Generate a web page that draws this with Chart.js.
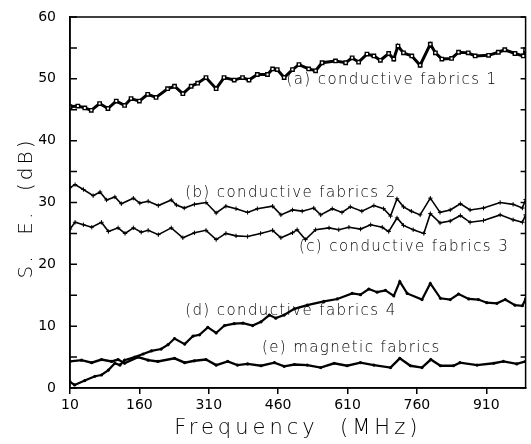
<!DOCTYPE html>
<html>
<head>
<meta charset="utf-8">
<script src="https://cdn.jsdelivr.net/npm/chart.js@4.4.1/dist/chart.umd.min.js"></script>
<style>
  html, body { margin: 0; padding: 0; background: #fff; }
  #wrap { width: 531px; height: 444px; position: relative; }
</style>
</head>
<body>
<div id="wrap"><canvas id="seChart"></canvas></div>
<script>
// values: frequency in MHz, shielding effectiveness in dB
const freqA = [10,27,42,56,74,92,110,128,142,160,178,196,221,236,254,272,286,304,326,343,365,383,397,415,437,448,458,473,491,505,526,541,555,584,606,620,634,652,667,681,699,710,719,731,749,767,789,800,814,835,850,871,886,915,936,950,972,990,995];
const seA = [45.5,45.6,45.3,44.9,46.0,45.2,46.4,45.7,46.8,46.4,47.5,47.0,48.4,48.8,47.6,48.8,49.3,50.2,48.4,50.2,49.8,50.2,49.8,50.7,50.7,51.6,51.5,50.2,51.5,52.3,51.6,51.3,52.6,52.9,52.6,53.4,52.7,54.0,53.7,53.0,54.1,53.2,55.3,54.2,53.7,52.2,55.6,54.2,53.2,53.3,54.3,54.2,53.7,53.8,54.3,54.7,54.1,53.7,54.7];

const freqB = [10,21,39,60,75,89,107,121,147,161,179,201,229,240,257,279,304,326,347,369,394,415,448,466,491,512,537,552,577,598,616,641,667,688,703,717,731,748,767,789,810,832,854,875,904,940,968,988,995];
const seB = [32.4,32.9,32.1,31.1,31.7,30.4,30.9,29.8,30.7,29.9,30.2,29.5,30.4,29.6,29.1,29.7,30.0,28.3,29.4,29.0,28.4,29.0,29.4,28.0,28.8,28.6,29.1,28.0,29.0,28.4,29.3,28.6,29.5,29.0,27.8,30.6,29.3,28.6,28.0,30.7,28.4,28.8,29.8,28.8,29.1,30.0,29.7,29.1,30.5];

const freqC = [10,21,39,57,78,93,114,129,147,164,179,201,229,254,279,304,326,347,369,394,422,448,466,491,501,519,541,570,591,613,638,660,685,699,717,731,752,775,789,810,832,854,875,904,940,968,988,995];
const seC = [25.7,26.8,26.4,26.0,26.8,25.3,25.9,25.0,25.9,25.2,25.5,24.8,25.9,24.3,25.1,25.5,24.0,25.0,24.6,24.5,25.0,25.5,24.3,25.1,25.6,24.0,25.6,25.9,25.6,26.0,25.7,26.4,26.0,25.3,27.5,26.3,25.6,25.0,28.2,26.7,27.0,27.9,26.8,27.1,28.0,27.2,26.8,28.0];

const freqD = [10,20,42,64,78,93,107,118,128,150,168,186,207,222,236,258,276,290,308,326,344,365,384,405,423,441,455,473,495,523,559,588,620,638,656,674,692,710,723,739,771,789,811,832,850,872,893,911,933,951,972,988,995];
const seD = [1.0,0.5,1.2,1.9,2.1,2.9,4.0,3.7,4.5,5.0,5.5,6.0,6.3,7.0,8.0,7.1,8.4,8.6,9.8,8.9,10.1,10.4,10.5,10.1,10.7,11.8,11.3,11.8,12.8,13.4,14.0,14.4,15.3,15.1,16.0,15.5,15.8,14.9,17.2,15.3,14.3,16.9,14.5,14.3,15.2,14.4,14.3,13.8,13.7,14.3,13.4,13.3,14.4];

const freqE = [10,35,57,78,100,114,128,157,179,200,236,258,279,304,326,351,372,394,423,452,473,495,523,552,581,609,638,667,703,723,746,771,790,811,839,853,890,926,947,976,995];
const seE = [4.3,4.5,4.1,4.6,4.3,4.6,4.0,5.0,4.5,4.3,4.8,4.1,4.4,4.6,3.7,4.3,3.7,3.9,3.6,4.1,3.5,3.8,3.7,3.3,4.0,3.6,4.1,3.7,3.3,4.8,3.6,3.3,4.6,3.6,3.6,4.1,3.7,4.0,4.3,3.9,4.3];

const xTicks = [10, 160, 310, 460, 610, 760, 910];

// curve labels, anchored in data units (left edge, vertical middle)
const labelText = ['(a) conductive fabrics 1', '(b) conductive fabrics 2', '(c) conductive fabrics 3', '(d) conductive fabrics 4', '(e) magnetic fabrics'];
const labelFreq = [478, 259, 505, 259, 425];
const labelSE = [49.8, 31.5, 22.8, 12.5, 6.4];

function toPoints(fs, vs) {
    return fs.map((f, i) => ({ x: f, y: vs[i] }));
}

Chart.defaults.font.family = '"DejaVu Sans", sans-serif';
Chart.defaults.font.size = 14;
Chart.defaults.color = '#000';

const framePlugin = {
    id: 'frame',
    beforeDatasetsDraw(chart) {
        const { ctx, scales: { x, y } } = chart;
        ctx.save();
        ctx.fillStyle = '#000';
        ctx.font = '200 15px "DejaVu Sans"';
        ctx.letterSpacing = '1.4px';
        ctx.textBaseline = 'middle';
        ctx.textAlign = 'left';
        labelText.forEach((t, i) => {
            ctx.fillText(t, x.getPixelForValue(labelFreq[i]), y.getPixelForValue(labelSE[i]));
        });
        ctx.restore();
    },
    afterDraw(chart) {
        const { ctx, chartArea: a, scales: { y } } = chart;
        ctx.save();
        ctx.strokeStyle = '#000';
        ctx.lineWidth = 1.5;
        ctx.strokeRect(a.left, a.top, a.right - a.left, a.bottom - a.top);

        // inward ticks on both vertical axes
        ctx.beginPath();
        y.ticks.forEach(t => {
            const py = y.getPixelForValue(t.value);
            ctx.moveTo(a.left, py);
            ctx.lineTo(a.left + 7, py);
            ctx.moveTo(a.right, py);
            ctx.lineTo(a.right - 5, py);
        });
        ctx.stroke();

        // axis titles, drawn here to get the wide letter spacing
        ctx.fillStyle = '#000';
        ctx.textAlign = 'center';
        ctx.textBaseline = 'middle';
        ctx.font = '200 21px "DejaVu Sans"';
        ctx.letterSpacing = '4px';
        ctx.fillText('Frequency  (MHz)', (a.left + a.right) / 2, 429);

        ctx.font = '200 20px "DejaVu Sans"';
        ctx.letterSpacing = '3px';
        ctx.translate(27, 208);
        ctx.rotate(-Math.PI / 2);
        ctx.fillText('S.  E.  (dB)', 0, 0);
        ctx.restore();
    }
};

const ctx = document.getElementById('seChart').getContext('2d');

const seChart = new Chart(ctx, {
    type: 'line',
    data: {
        datasets: [
            {
                label: '(a) conductive fabrics 1',
                data: toPoints(freqA, seA),
                borderColor: '#000',
                borderWidth: 3,
                pointStyle: 'rect',
                pointRadius: 2.4,
                pointBorderWidth: 1.4,
                pointBorderColor: '#000',
                pointBackgroundColor: '#fff'
            },
            {
                label: '(b) conductive fabrics 2',
                data: toPoints(freqB, seB),
                borderColor: '#000',
                borderWidth: 1.6,
                pointStyle: 'cross',
                pointRadius: 2.2,
                pointBorderWidth: 1,
                pointBorderColor: '#000'
            },
            {
                label: '(c) conductive fabrics 3',
                data: toPoints(freqC, seC),
                borderColor: '#000',
                borderWidth: 1.6,
                pointStyle: 'cross',
                pointRadius: 2.2,
                pointBorderWidth: 1,
                pointBorderColor: '#000'
            },
            {
                label: '(d) conductive fabrics 4',
                data: toPoints(freqD, seD),
                borderColor: '#000',
                borderWidth: 2.2,
                pointStyle: 'circle',
                pointRadius: 1.6,
                pointBorderWidth: 0,
                pointBackgroundColor: '#000'
            },
            {
                label: '(e) magnetic fabrics',
                data: toPoints(freqE, seE),
                borderColor: '#000',
                borderWidth: 2.4,
                pointStyle: 'circle',
                pointRadius: 1.6,
                pointBorderWidth: 0,
                pointBackgroundColor: '#000'
            }
        ]
    },
    options: {
        responsive: true,
        maintainAspectRatio: false,
        animation: false,
        layout: {
            padding: { top: 17, right: 2, left: 0, bottom: 0 }
        },
        plugins: {
            legend: { display: false },
            tooltip: { enabled: false }
        },
        elements: {
            line: { tension: 0, fill: false }
        },
        scales: {
            x: {
                type: 'linear',
                min: 10,
                max: 995,
                afterBuildTicks: function(scale) {
                    scale.ticks = xTicks.map(v => ({ value: v }));
                },
                afterFit: function(scale) {
                    scale.height = 56;
                },
                grid: {
                    drawOnChartArea: false,
                    drawTicks: true,
                    tickLength: 6,
                    color: '#000',
                    lineWidth: 1.5
                },
                border: { display: true, color: '#000', width: 1.5 },
                ticks: {
                    padding: 3,
                    autoSkip: false,
                    maxRotation: 0
                }
            },
            y: {
                min: 0,
                max: 60,
                afterFit: function(scale) {
                    scale.width = 70;
                },
                grid: { display: false },
                border: { display: true, color: '#000', width: 1.5 },
                ticks: {
                    stepSize: 5,
                    padding: 6,
                    callback: function(value) {
                        return value % 10 === 0 ? value : '';
                    }
                }
            }
        }
    },
    plugins: [framePlugin]
});
</script>
</body>
</html>
